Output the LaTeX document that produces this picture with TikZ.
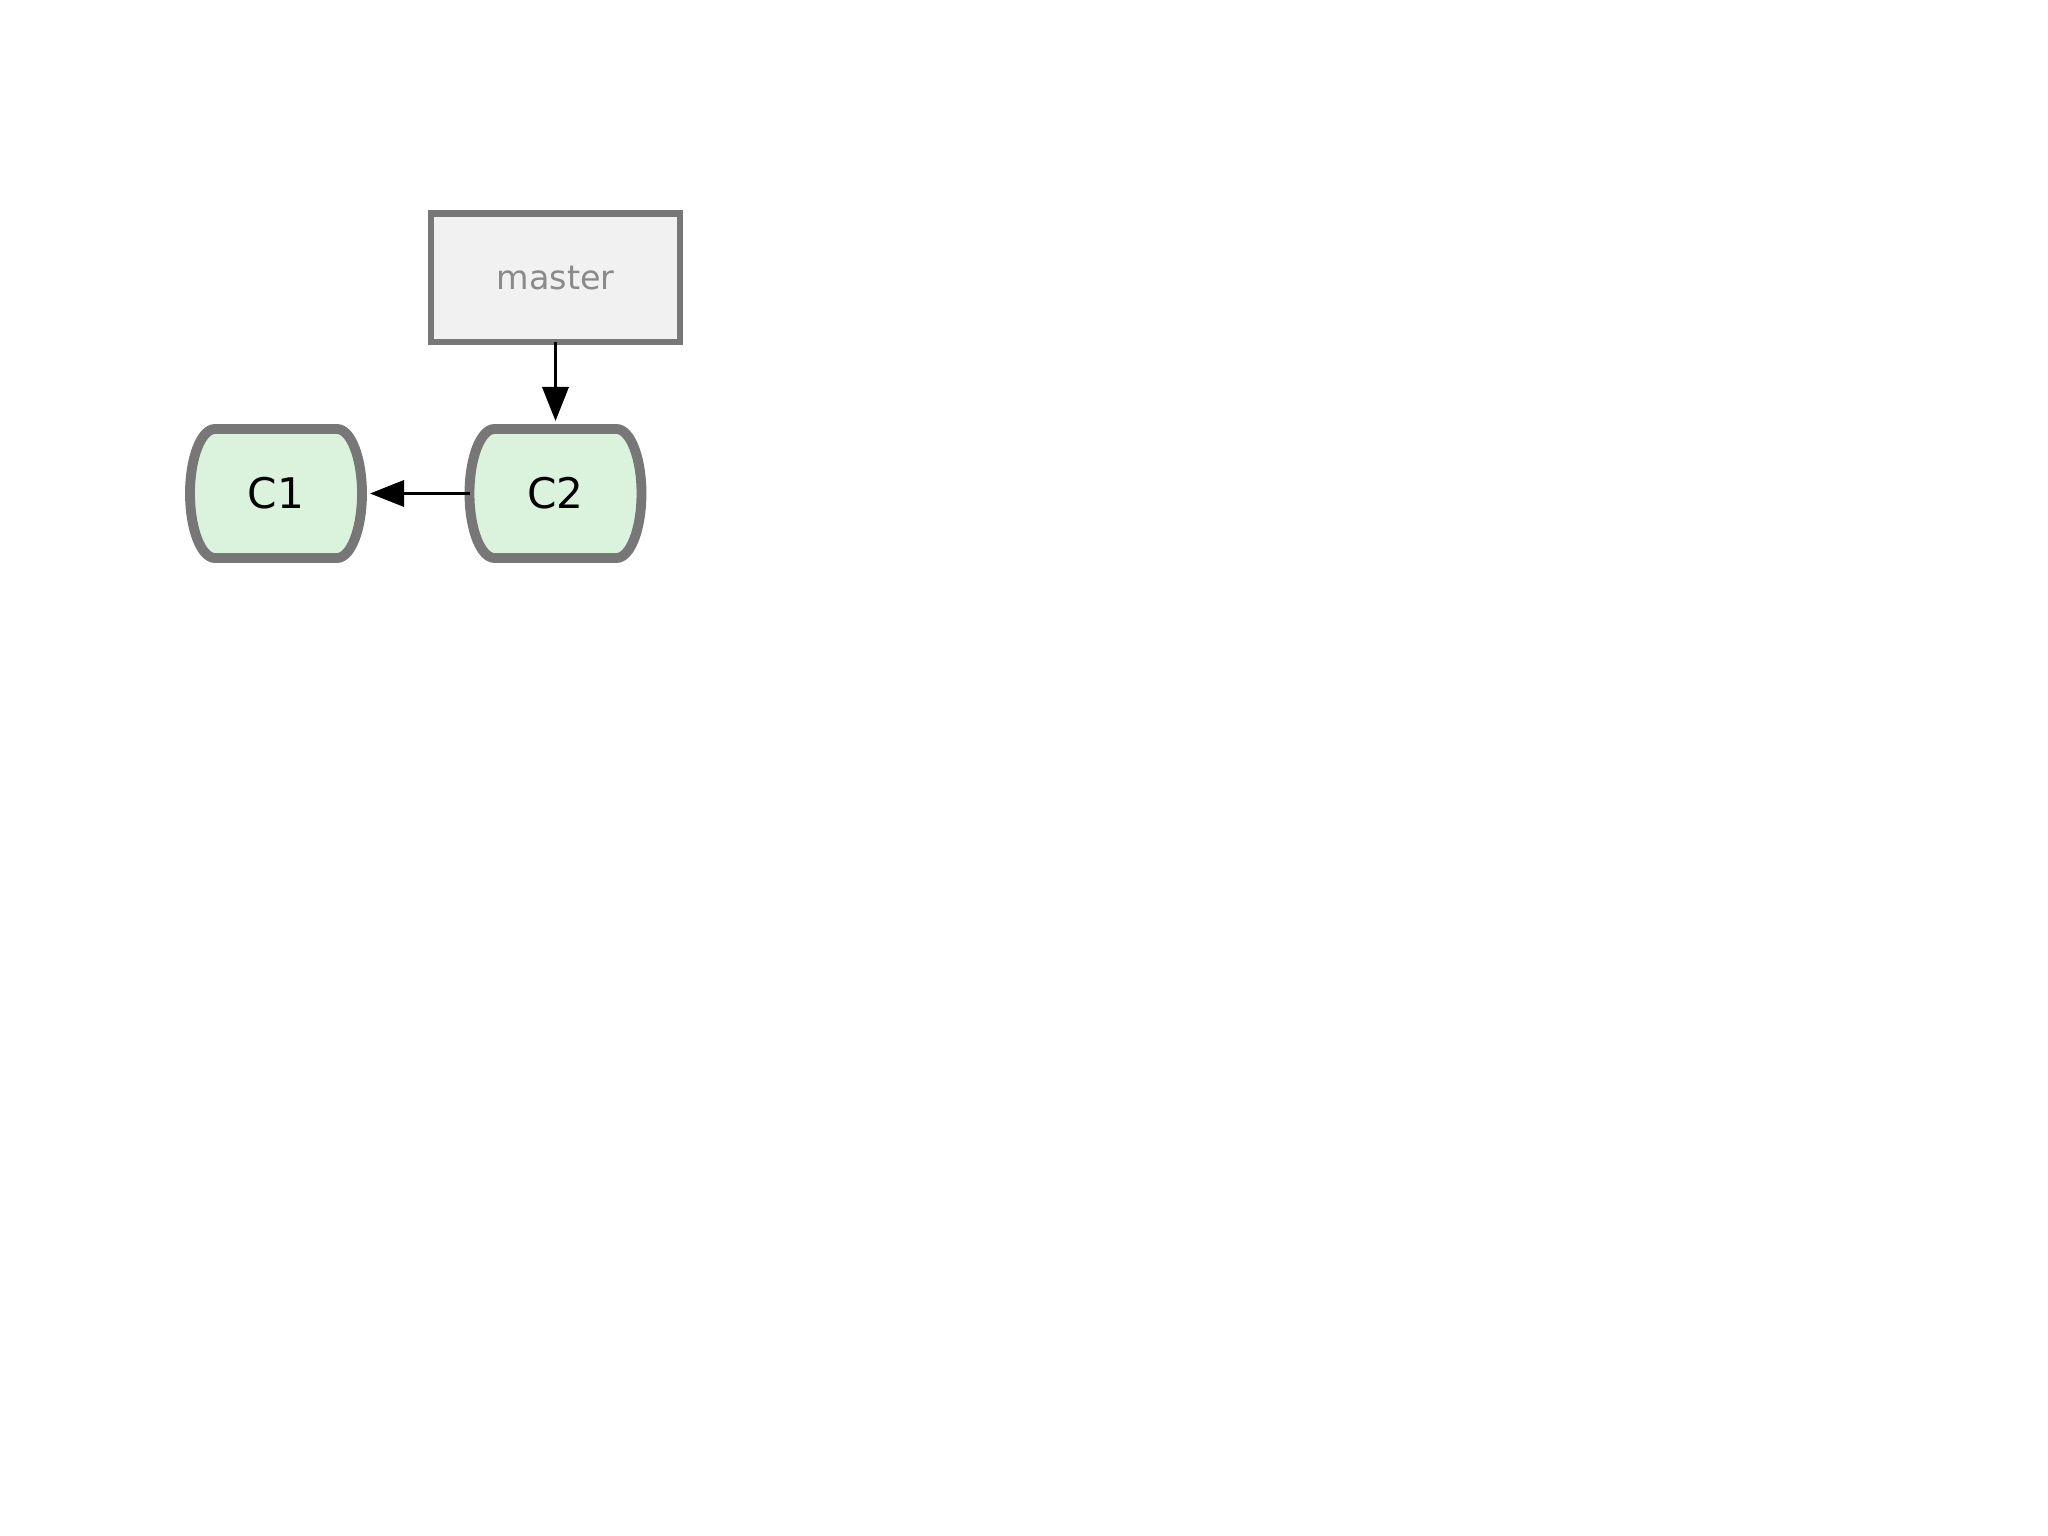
\documentclass[tikz,border=0pt]{standalone}
\usepackage{fontspec}
\setmainfont{DejaVu Sans}
\usetikzlibrary{positioning}
\usetikzlibrary{arrows.meta}

\definecolor{framegray}{HTML}{777777}
\definecolor{commitfill}{HTML}{DBF3DD}
\definecolor{branchfill}{HTML}{F1F1F1}
\definecolor{branchtext}{HTML}{8A8A8A}

% rectangle with half-ellipse ends
\def\commitbulge{2.5mm}
\makeatletter
\pgfdeclareshape{commit shape}{
	\inheritsavedanchors[from=rectangle]
	\inheritanchorborder[from=rectangle]
	\inheritanchor[from=rectangle]{center}
	\inheritanchor[from=rectangle]{north}
	\inheritanchor[from=rectangle]{south}
	\inheritanchor[from=rectangle]{east}
	\inheritanchor[from=rectangle]{west}
	\backgroundpath{
		\southwest \pgf@xa=\pgf@x \pgf@ya=\pgf@y
		\northeast \pgf@xb=\pgf@x \pgf@yb=\pgf@y
		\pgf@xc=\commitbulge
		\pgf@yc=\pgf@yb \advance\pgf@yc by -\pgf@ya \divide\pgf@yc by 2
		\edef\commitrx{\the\pgf@xc}\edef\commitry{\the\pgf@yc}
		\advance\pgf@xa by \pgf@xc \advance\pgf@xb by -\pgf@xc
		\edef\commitleft{\the\pgf@xa}\edef\commitright{\the\pgf@xb}
		\edef\commitbottom{\the\pgf@ya}\edef\committop{\the\pgf@yb}
		\pgfpathmoveto{\pgfpoint{\commitleft}{\commitbottom}}
		\pgfpathlineto{\pgfpoint{\commitright}{\commitbottom}}
		\pgfpatharc{-90}{90}{\commitrx and \commitry}
		\pgfpathlineto{\pgfpoint{\commitleft}{\committop}}
		\pgfpatharc{90}{270}{\commitrx and \commitry}
		\pgfpathclose
	}
}
\makeatother

\begin{document}
\begin{tikzpicture}[
	commit/.style={shape=commit shape, draw=framegray, fill=commitfill, line width=2.8pt, minimum width=1.72cm, minimum height=1.29cm, inner sep=0pt, outer sep=0pt, font=\fontsize{12}{14}\selectfont},
	branch/.style={rectangle, draw=framegray, fill=branchfill, line width=1.8pt, minimum width=2.49cm, minimum height=1.285cm, outer sep=0pt, text=branchtext, font=\fontsize{9.5}{12}\selectfont},
	pointer/.style={-{Triangle[length=3.4mm, width=2.6mm]}, line width=1pt, shorten >= 0.8mm},
]
	\useasboundingbox[fill=white] (0,0) rectangle (20.48,-15.36);

	\node[commit] (c1) at (2.76,-4.935) {C1};
	\node[commit, right=1.075cm of c1] (c2) {C2};
	\node[branch, above=0.87cm of c2] (master) {master};

	\draw[pointer] (master) -- (c2);
	\draw[pointer] (c2) -- (c1);
\end{tikzpicture}
\end{document}
